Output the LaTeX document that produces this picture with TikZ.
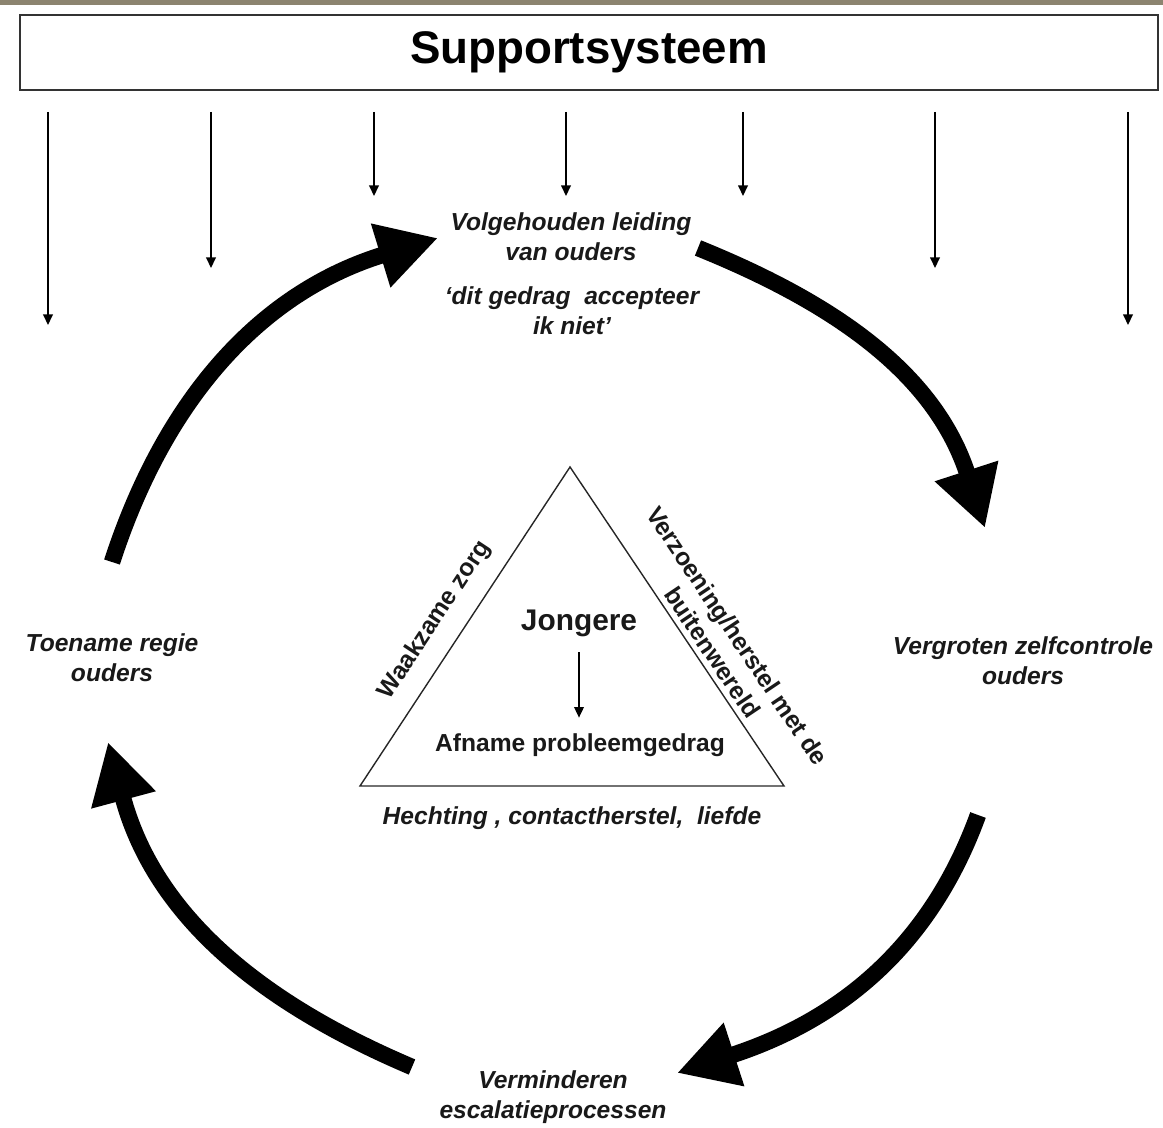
\documentclass[tikz,border=0pt]{standalone}
\usepackage{fontspec}
\setmainfont{Liberation Sans}
\usetikzlibrary{arrows.meta}
\definecolor{stripgray}{RGB}{140,132,112}

\tikzset{
  bigarrow/.style={line width=0.33cm, -{Triangle[length=1.2cm,width=1.25cm]}},
  smallarrow/.style={line width=0.8pt, -{Triangle[length=6pt,width=5.5pt]}},
  cyclelabel/.style={font=\fontsize{14}{17}\selectfont\bfseries\itshape, align=center, text=black!90, inner sep=2pt},
  sidelabel/.style={font=\fontsize{14}{17}\selectfont\bfseries, align=center, text=black!90, inner sep=2pt},
}

\begin{document}
\begin{tikzpicture}[x=0.02cm,y=0.02cm]
    \useasboundingbox (0,0) rectangle (1163,-1128);
    \fill[stripgray] (0,0) rectangle (1163,-5);

    \node[draw=black!80, line width=1.2pt, minimum width=22.76cm, minimum height=1.5cm,
          font=\fontsize{26}{30}\selectfont\bfseries] (support) at (589,-52.5) {Supportsysteem};

    % pijltjes vanuit het supportsysteem
    \foreach \x/\y [count=\i] in {48/325, 211/268, 374/196, 566/196, 743/196, 935/268, 1128/325} {
        \coordinate (s\i) at (\x,-112);
        \coordinate (e\i) at (\x,-\y);
        \draw[smallarrow] (s\i) -- (e\i);
    }

    \node[cyclelabel] (leiding) at (571,-237) {Volgehouden leiding\\van ouders};
    \node[cyclelabel] (quote) at (572,-311) {`dit gedrag\ \ accepteer\\ik niet'};
    \node[cyclelabel] (zelf) at (1023,-661) {Vergroten zelfcontrole\\ouders};
    \node[cyclelabel] (escal) at (553,-1097) {Verminderen\\escalatieprocessen};
    \node[cyclelabel] (regie) at (112,-658) {Toename regie\\ouders};

    % driehoek
    \coordinate (top) at (570,-467);
    \coordinate (left) at (360,-786);
    \coordinate (right) at (784,-786);
    \draw[line width=0.8pt, black!85] (top) -- (left) -- (right) -- cycle;

    \node[font=\fontsize{17}{20}\selectfont\bfseries, inner sep=2pt, text=black!90] (jongere) at (579,-623) {Jongere};
    \node[sidelabel] (afname) at (580,-745) {Afname probleemgedrag};
    \draw[smallarrow, shorten <=0.24cm, shorten >=0.24cm] (jongere.south) -- (jongere.south |- afname.north);

    \node[cyclelabel] (hechting) at (572,-818) {Hechting , contactherstel,\ \ liefde};
    \node[sidelabel, rotate=56.6] (waakzaam) at (435,-620) {Waakzame zorg};
    \node[sidelabel, rotate=-56.1] (verzoening) at (725,-644) {Verzoening/herstel met de\\buitenwereld};

    % de cirkel
    \coordinate (a1) at (112,-562);  \coordinate (b1) at (438,-238);
    \coordinate (a2) at (698,-248);  \coordinate (b2) at (985,-528);
    \coordinate (a3) at (978,-815);  \coordinate (b3) at (677,-1073);
    \coordinate (a4) at (412,-1067); \coordinate (b4) at (108,-742);
    \draw[bigarrow] (a1) to[out=72,in=197] (b1);
    \draw[bigarrow] (a2) to[out=-22,in=108] (b2);
    \draw[bigarrow] (a3) to[out=-110,in=18] (b3);
    \draw[bigarrow] (a4) to[out=157,in=-75] (b4);
\end{tikzpicture}
\end{document}
